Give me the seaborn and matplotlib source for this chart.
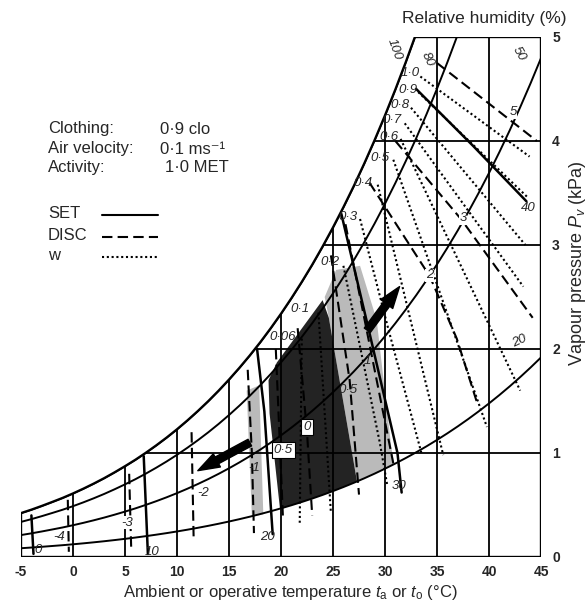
import numpy as np
import pandas as pd
import seaborn as sns
import matplotlib
matplotlib.use("Agg")
import matplotlib.pyplot as plt
from matplotlib.patches import Polygon
from matplotlib.lines import Line2D

# Saturation vapour pressure (kPa) at 1 degC steps, -5..45
TEMPS = list(range(-5, 46))
P_SAT = [0.422, 0.455, 0.491, 0.529, 0.568, 0.611, 0.657, 0.706, 0.758, 0.814,
         0.873, 0.935, 1.002, 1.073, 1.148, 1.228, 1.313, 1.403, 1.498, 1.599,
         1.706, 1.819, 1.938, 2.064, 2.198, 2.339, 2.488, 2.645, 2.810, 2.985,
         3.169, 3.363, 3.567, 3.782, 4.008, 4.246, 4.496, 4.759, 5.034, 5.324,
         5.628, 5.947, 6.281, 6.632, 6.999, 7.384, 7.787, 8.208, 8.650, 9.111,
         9.594]
RH_LEVELS = [100, 80, 50, 20]
GRID_T = list(range(-5, 46, 5))
GRID_PV = [1, 2, 3, 4]

# iso-lines, (t, Pv) points
SET_LINES = {
    "0": [(-4.0, 0.40), (-3.8, 0.03)],
    "10": [(6.8, 0.97), (7.2, 0.03)],
    "20": [(17.7, 2.0), (18.4, 1.4), (19.2, 0.22)],
    "30": [(25.8, 3.3), (28.4, 2.2), (31.2, 1.0), (31.6, 0.62)],
    "40": [(33.0, 4.5), (38.5, 3.95), (43.6, 3.42)],
}
DISC_LINES = {
    "-4": [(-0.5, 0.55), (-0.4, 0.05)],
    "-3": [(5.4, 0.80), (5.6, 0.07)],
    "-2": [(11.4, 1.20), (11.6, 0.18)],
    "-1": [(16.8, 1.80), (17.2, 1.0), (17.4, 0.23)],
    "-0.5": [(19.5, 2.0), (20.2, 0.35)],
    "0": [(21.6, 2.2), (22.5, 1.2), (23.0, 0.40)],
    "0.5": [(24.8, 2.9), (26.6, 1.7), (27.5, 0.60)],
    "1": [(26.2, 3.2), (28.7, 1.95), (30.8, 0.90)],
    "2": [(28.5, 3.6), (34.3, 2.7), (36.9, 2.1), (38.8, 1.5)],
    "3": [(31.0, 4.0), (37.3, 3.25), (44.2, 2.3)],
    "5": [(35.0, 4.75), (44.6, 4.0)],
}
W_LINES = {
    "1.0": [(33.4, 4.62), (43.9, 3.85)],
    "0.9": [(33.2, 4.47), (43.8, 3.45)],
    "0.8": [(32.5, 4.32), (43.5, 3.0)],
    "0.7": [(31.9, 4.17), (43.3, 2.6)],
    "0.6": [(31.5, 4.02), (43.0, 1.6)],
    "0.5": [(30.8, 3.82), (39.8, 1.25)],
    "0.4": [(29.3, 3.58), (35.6, 0.98)],
    "0.3": [(27.6, 3.25), (30.3, 2.2), (33.5, 1.0)],
    "0.2": [(26.0, 2.8), (29.5, 1.1), (30.2, 0.7)],
    "0.1": [(23.6, 2.35), (24.8, 0.42)],
    "0.06": [(22.0, 2.1), (21.8, 0.32)],
}

# comfort zones
DARK_T = [24.0, 19.6, 18.8, 18.9, 19.6, 19.9, 21, 22, 23, 24, 25, 26, 27, 27.3, 24.6]
DARK_PV = [2.47, 1.87, 1.70, 1.38, 0.74, 0.465, 0.498, 0.529, 0.562, 0.597, 0.634, 0.673, 0.713, 0.73, 2.3]
LIGHT_L_T = [16.7, 17.9, 18.3, 17.2]
LIGHT_L_PV = [1.60, 1.65, 0.41, 0.39]
LIGHT_R_T = [24.2, 25.3, 27.6, 29.2, 30.6, 30.9, 30, 29, 28, 27.3, 24.6]
LIGHT_R_PV = [2.5, 2.76, 2.8, 2.28, 1.06, 0.89, 0.85, 0.80, 0.756, 0.73, 2.3]

# labels
RH_LABELS = {"100": (30.9, 4.88, -70), "80": (34.1, 4.78, -65), "50": (42.9, 4.84, -60), "20": (42.9, 2.08, 25)}
W_LABELS = {"1·0": (32.4, 4.65), "0·9": (32.2, 4.49), "0·8": (31.4, 4.35), "0·7": (30.7, 4.20),
            "0·6": (30.4, 4.04), "0·5": (29.5, 3.84), "0·4": (27.9, 3.60), "0·3": (26.4, 3.27),
            "0·2": (24.7, 2.84), "0·1": (21.8, 2.38), "0·06": (20.2, 2.12)}
DISC_LABELS = {"5": (42.3, 4.28), "3": (37.5, 3.26), "2": (34.3, 2.71), "-2": (12.5, 0.62),
               "-3": (5.2, 0.33), "-4": (-1.3, 0.19)}
ZONE_LABELS = {"1": (28.3, 1.88), "0·5": (26.4, 1.61), "-1": (17.4, 0.86)}
BOX_LABELS = {"0": (22.5, 1.25), "0·5 ": (20.2, 1.03)}
SET_LABELS = {"0": (-3.4, 0.07), "10": (7.6, 0.05), "20": (18.7, 0.19), "30": (31.4, 0.68), "40": (43.8, 3.36)}
ARROWS = [((17.0, 1.10), (12.0, 0.83)), ((28.3, 2.18), (31.4, 2.60))]

sns.set_theme(style="white")
plt.rcParams["font.family"] = ["Liberation Sans", "DejaVu Sans"]
plt.rcParams["mathtext.fontset"] = "custom"
plt.rcParams["mathtext.rm"] = "Liberation Sans"
plt.rcParams["mathtext.it"] = "Liberation Sans:italic"
plt.rcParams["mathtext.bf"] = "Liberation Sans:bold"

W, H = 587, 607
fig = plt.figure(figsize=(W / 100, H / 100), dpi=100)
ax = fig.add_axes([21 / W, 50 / H, 520 / W, 520 / H])
ax.set_xlim(-5, 45)
ax.set_ylim(0, 5)
for s in ax.spines.values():
    s.set_visible(False)

# chart region bounded by the saturation curve
t5 = float(np.interp(5, P_SAT, TEMPS))
sat_pts = [(t, p) for t, p in zip(TEMPS, P_SAT) if t < t5]
region = [(-5, 0), (45, 0), (45, 5), (t5, 5)] + sat_pts[::-1]
clip = Polygon(region, closed=True, transform=ax.transData, fill=False)
ax.add_patch(Polygon(region, closed=True, fill=False, edgecolor="black", lw=1.7, zorder=6))

ax.fill(LIGHT_L_T, LIGHT_L_PV, color="#bababa", lw=0, zorder=1)
ax.fill(LIGHT_R_T, LIGHT_R_PV, color="#bababa", lw=0, zorder=1)
ax.fill(DARK_T, DARK_PV, color="#232323", lw=0, zorder=1)

gv = ax.vlines(GRID_T, 0, 5, color="black", lw=1.3, zorder=2)
gh = ax.hlines(GRID_PV, -5, 45, color="black", lw=1.3, zorder=2)
gv.set_clip_path(clip)
gh.set_clip_path(clip)

rh_df = pd.DataFrame([dict(rh=rh, T=t, Pv=rh / 100 * p)
                      for rh in RH_LEVELS for t, p in zip(TEMPS, P_SAT)])
sns.lineplot(data=rh_df, x="T", y="Pv", units="rh", estimator=None, sort=False,
             color="black", lw=1.4, legend=False, ax=ax)

rows = []
for kind, group in (("SET", SET_LINES), ("DISC", DISC_LINES), ("w", W_LINES)):
    for name, pts in group.items():
        for t, p in pts:
            rows.append(dict(kind=kind, line=f"{kind} {name}", T=t, Pv=p))
lines_df = pd.DataFrame(rows)
sns.lineplot(data=lines_df, x="T", y="Pv", units="line", style="kind", size="kind",
             sizes={"SET": 1.8, "DISC": 1.5, "w": 1.5},
             dashes={"SET": "", "DISC": (5, 2.5), "w": (1, 1.3)},
             estimator=None, sort=False, color="black", legend=False, ax=ax)

for ln in ax.lines:
    ln.set_clip_path(clip)
    ln.set_zorder(3)

for tail, tip in ARROWS:
    ax.annotate("", xy=tip, xytext=tail, zorder=5,
                arrowprops=dict(arrowstyle="simple,head_width=0.9,head_length=1.3,tail_width=0.45",
                                color="black", mutation_scale=12, shrinkA=0, shrinkB=0))

lab = dict(fontsize=9.5, style="italic", ha="center", va="center", zorder=7)
for txt, (t, p, r) in RH_LABELS.items():
    ax.text(t, p, txt, rotation=r, **lab)
for d in (W_LABELS, SET_LABELS, ZONE_LABELS):
    for txt, (t, p) in d.items():
        ax.text(t, p, txt, **lab)
for txt, (t, p) in DISC_LABELS.items():
    ax.text(t, p, txt, bbox=dict(boxstyle="square,pad=0.05", fc="white", ec="none"), **lab)
for txt, (t, p) in BOX_LABELS.items():
    ax.text(t, p, txt.strip(), bbox=dict(boxstyle="square,pad=0.15", fc="white", ec="black", lw=0.8), **lab)

ax.set_xticks(GRID_T)
ax.set_xticklabels([str(t) for t in GRID_T], fontsize=10, fontweight="bold")
ax.yaxis.tick_right()
ax.set_yticks(range(0, 6))
ax.set_yticklabels([str(v) for v in range(0, 6)], fontsize=10, fontweight="bold")
ax.tick_params(axis="both", length=0)
ax.tick_params(axis="x", pad=6)
ax.tick_params(axis="y", pad=8)
ax.set_xlabel("")
ax.set_ylabel("")

fig.text(290 / W, 1 - 592 / H, r"Ambient or operative temperature $t_\mathrm{a}$ or $t_\mathrm{o}$ (°C)",
         fontsize=12, ha="center", va="center")
fig.text(577 / W, 1 - 263 / H, r"Vapour pressure $P_v$ (kPa)", fontsize=13,
         rotation=90, ha="center", va="center")
fig.text(484 / W, 1 - 18 / H, "Relative humidity (%)", fontsize=12.5, ha="center", va="center")

leg = dict(fontsize=12, ha="left", va="center")
for y, a, b, bx in ((129, "Clothing:", "0·9 clo", 160), (149, "Air velocity:", "0·1 ms⁻¹", 160),
                    (168, "Activity:", "1·0 MET", 165)):
    fig.text(48 / W, 1 - y / H, a, **leg)
    fig.text(bx / W, 1 - y / H, b, **leg)
for y, name, ls in ((214, "SET", "-"), (236, "DISC", (0, (5, 2.5))), (256, "w", (0, (1, 1.3)))):
    fig.text(48 / W, 1 - y / H, name, **leg)
    fig.add_artist(Line2D([102 / W, 158 / W], [1 - (y + 1) / H] * 2, color="black", lw=1.5, ls=ls))

fig.savefig("out.png", dpi=100)
